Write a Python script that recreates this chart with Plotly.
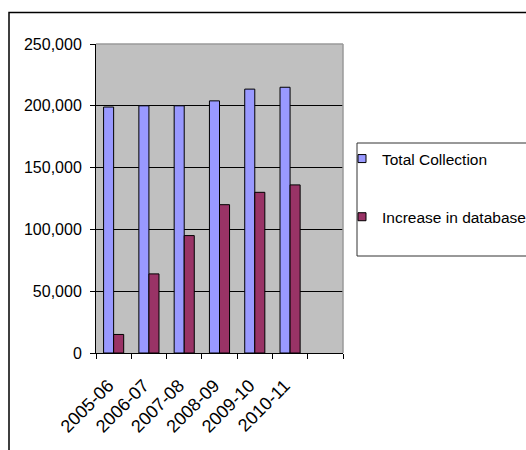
import plotly.graph_objects as go

categories = ["2005-06", "2006-07", "2007-08", "2008-09", "2009-10", "2010-11"]
total_collection = [199000, 200000, 200000, 204000, 213500, 215000]
increase_in_database = [15000, 64000, 95000, 120000, 130000, 136000]
series_names = ["Total Collection", "Increase in database"]
y_ticks = [0, 50000, 100000, 150000, 200000, 250000]

W, H = 526, 450
ML, MR, MT, MB = 96, 183, 44, 97
PW, PH = W - ML - MR, H - MT - MB


def px_x(p):
    return (p - ML) / PW


def px_y(p):
    return (H - MB - p) / PH


FONT = "Liberation Sans, Arial, sans-serif"
BLUE = "#9999FF"
PLUM = "#993366"

xpos = list(range(len(categories)))
n_slots = len(categories) + 1
label_shift = 0.15  # rotated labels sit slightly left of the slot centre

fig = go.Figure()
fig.add_trace(go.Bar(x=xpos, y=total_collection, name=series_names[0],
                     marker=dict(color=BLUE, line=dict(color="black", width=1)),
                     showlegend=False))
fig.add_trace(go.Bar(x=xpos, y=increase_in_database, name=series_names[1],
                     marker=dict(color=PLUM, line=dict(color="black", width=1)),
                     showlegend=False))
# legend entries (small square swatches like the original)
for nm, col in zip(series_names, [BLUE, PLUM]):
    fig.add_trace(go.Scatter(x=[None], y=[None], mode="markers", name=nm,
                             legendgroup=nm,
                             marker=dict(symbol="square", size=8, color=col,
                                         line=dict(color="black", width=1))))

fig.update_layout(
    width=W, height=H,
    margin=dict(l=ML, r=MR, t=MT, b=MB, autoexpand=False),
    paper_bgcolor="white",
    plot_bgcolor="#C0C0C0",
    barmode="group",
    bargap=0.43,
    bargroupgap=0,
    font=dict(family=FONT, size=16, color="black"),
    legend=dict(
        x=px_x(342), y=px_y(142), xanchor="left", yanchor="top",
        bgcolor="rgba(0,0,0,0)", borderwidth=0,
        tracegroupgap=35,
        font=dict(family=FONT, size=15.5, color="black"),
    ),
    showlegend=True,
)

fig.update_xaxes(
    range=[-0.5, n_slots - 0.5],
    tickmode="array", tickvals=[i - label_shift for i in xpos], ticktext=categories,
    ticks="", tickangle=-45, ticklabelstandoff=14,
    showline=True, linecolor="black", linewidth=1,
    showgrid=False, zeroline=False, automargin=False,
    minor=dict(tickmode="array", tickvals=[i - 0.5 for i in range(n_slots + 1)],
               ticks="outside", ticklen=5, tickcolor="black", tickwidth=1,
               showgrid=False),
    tickfont=dict(family=FONT, size=18, color="black"),
)
fig.update_yaxes(
    range=[0, 250000],
    tickmode="array", tickvals=y_ticks, tickformat=",d",
    ticks="outside", ticklen=5, tickcolor="black", tickwidth=1,
    ticklabelstandoff=5,
    showline=True, linecolor="black", linewidth=1,
    showgrid=True, gridcolor="black", gridwidth=1,
    zeroline=False, automargin=False,
    tickfont=dict(family=FONT, size=16, color="black"),
)

shapes = [
    # plot-area top & right edges (gray)
    dict(type="line", xref="paper", yref="paper", x0=0, x1=1, y0=1, y1=1,
         line=dict(color="#9A9A9A", width=1.5), layer="above"),
    dict(type="line", xref="paper", yref="paper", x0=1, x1=1, y0=0, y1=1,
         line=dict(color="#9A9A9A", width=1.5), layer="above"),
    # legend box
    dict(type="rect", xref="paper", yref="paper",
         x0=px_x(357), x1=px_x(560), y0=px_y(256), y1=px_y(143),
         line=dict(color="#333333", width=1), layer="above"),
    # outer chart border
    dict(type="rect", xref="paper", yref="paper",
         x0=px_x(9), x1=px_x(560), y0=px_y(480), y1=px_y(12.5),
         line=dict(color="black", width=1.5), layer="above"),
]
fig.update_layout(shapes=shapes)

fig.write_html("out.html")
